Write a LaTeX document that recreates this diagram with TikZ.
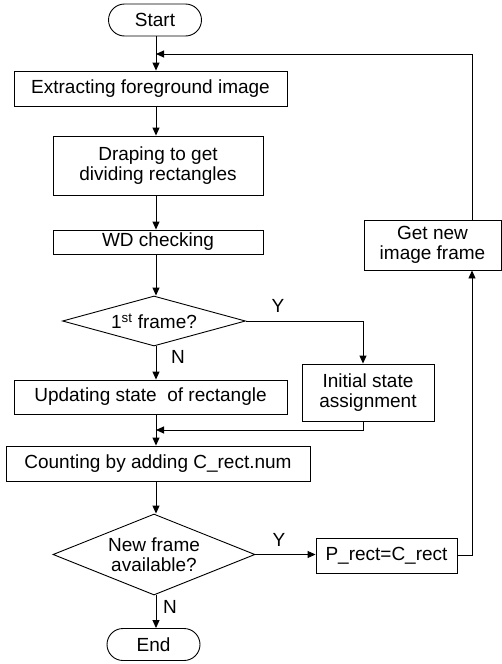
\documentclass[tikz,border=0pt]{standalone}
\usepackage{fontspec}
\setmainfont{Liberation Sans}
\usetikzlibrary{shapes.geometric,shapes.misc,arrows.meta}

\begin{document}
\begin{tikzpicture}[x=1pt, y=-1pt, line width=0.9pt, >={Triangle[length=8pt,width=7pt]},
  font=\fontsize{19}{20.5}\selectfont,
  proc/.style = {draw, rectangle, inner sep=0pt, align=center},
  term/.style = {draw, rounded rectangle, inner sep=0pt, minimum width=93pt, minimum height=32pt},
  decide/.style = {draw, diamond, inner sep=0pt, align=center}]
  \useasboundingbox (0,0) rectangle (502,664);
  % main column
  \node[term] (start) at (155,20) {Start};
  \node[proc, minimum width=273pt, minimum height=35pt] (extract) at (150.5,88.5) {Extracting foreground image};
  \node[proc, minimum width=210pt, minimum height=59pt] (drape) at (158,165.5) {Draping to get\\dividing rectangles};
  \node[proc, minimum width=210pt, minimum height=24pt] (wd) at (158,242) {WD checking};
  \node[decide, shape aspect=3.66, minimum width=183pt, minimum height=50pt] (first) at (154,321) {1\textsuperscript{st} frame?};
  \node[proc, minimum width=273pt, minimum height=34pt] (update) at (150.5,397) {Updating state~ of rectangle};
  \node[proc, minimum width=132pt, minimum height=57pt] (init) at (368,392.5) {Initial state\\assignment};
  \node[proc, minimum width=304pt, minimum height=35pt] (count) at (158,463.5) {Counting by adding C\_rect.num};
  \node[decide, shape aspect=2.49, minimum width=202pt, minimum height=81pt] (newf) at (154,554.5) {New frame\\available?};
  \node[proc, minimum width=141pt, minimum height=35pt] (prect) at (386.5,555.5) {P\_rect=C\_rect};
  \node[proc, minimum width=137pt, minimum height=50pt] (getnew) at (432.5,245) {Get new\\image frame};
  \node[term] (end) at (153.5,644.5) {End};
  % branch labels
  \node (y1) at (278,306) {Y};
  \node (n1) at (178,357) {N};
  \node (y2) at (279,540) {Y};
  \node (n2) at (170,607) {N};
  \coordinate (col) at (156,0);
  \coordinate (merge) at (156,430);
  \coordinate (loop) at (472,54);
  % connectors
  \draw[->] (col |- start.south) -- (col |- extract.north);
  \draw[->] (col |- extract.south) -- (col |- drape.north);
  \draw[->] (col |- drape.south) -- (col |- wd.north);
  \draw[->] (col |- wd.south) -- (col |- first.north);
  \draw[->] (col |- first.south) -- (col |- update.north);
  \draw[->] (first.east) -| ([xshift=-5pt]init.north);
  \draw[->] (col |- update.south) -- (col |- count.north);
  \draw[->] ([xshift=-5pt]init.south) |- (merge);
  \draw[->] (col |- count.south) -- (col |- newf.north);
  \draw[->] (newf.east) -- (newf.east -| prect.west);
  \draw[->] (col |- newf.south) -- (col |- end.north);
  \draw[->] (prect.east) -| (loop |- getnew.south);
  \draw[->] (loop |- getnew.north) -- (loop) -- (col |- loop);
\end{tikzpicture}
\end{document}
